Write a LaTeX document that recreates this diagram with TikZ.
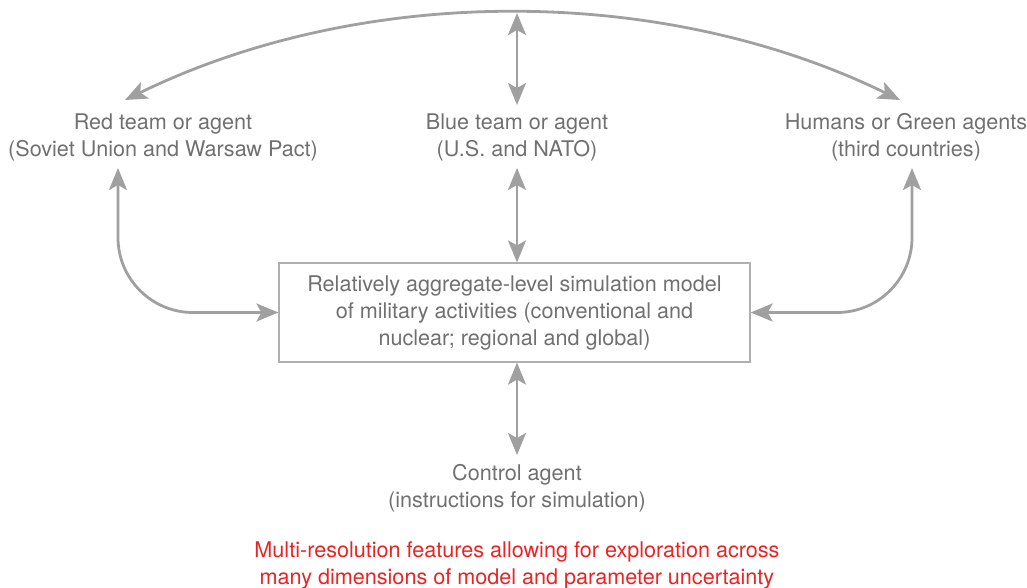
\documentclass[tikz,border=0pt]{standalone}
\usepackage{fontspec}
\setmainfont{TeX Gyre Heros}
\usetikzlibrary{arrows.meta,calc}
\definecolor{txtgray}{RGB}{112,112,112}
\definecolor{arrgray}{RGB}{160,160,160}
\definecolor{boxgray}{RGB}{175,175,175}
\definecolor{notered}{RGB}{235,35,35}
\tikzset{
  lbl/.style={align=center,inner sep=0pt,text=txtgray,font=\fontsize{21.6}{27}\selectfont},
  conn/.style={draw=arrgray,line width=2.8pt,{Stealth[length=22pt,width=18pt,inset=5pt]}-{Stealth[length=22pt,width=18pt,inset=5pt]}},
  simbox/.style={draw=boxgray,line width=1.2pt,minimum width=471pt,minimum height=99pt,align=center,inner sep=0pt,text=txtgray,font=\fontsize{21.6}{27}\selectfont}
}
\begin{document}
\begin{tikzpicture}[x=1pt,y=-1pt]
\useasboundingbox (0,0) rectangle (1027,588);
\node[lbl] (red) at (163,137) {Red team or agent\\(Soviet Union and Warsaw Pact)};
\node[lbl] (blue) at (517,137) {Blue team or agent\\(U.S. and NATO)};
\node[lbl] (green) at (906,137) {Humans or Green agents\\(third countries)};
\node[simbox] (box) at (514.5,312.5) {Relatively aggregate-level simulation model\\of military activities (conventional and\\nuclear; regional and global)};
\node[lbl] (ctrl) at (517,488) {Control agent\\(instructions for simulation)};
\node[lbl,text=notered] (note) at (517,565.5) {Multi-resolution features allowing for exploration across\\many dimensions of model and parameter uncertainty};
\coordinate (redtip) at (125,100);
\coordinate (greentip) at (900,100);
\coordinate (arctop) at (517,13);
\coordinate (redup) at (118,168);
\coordinate (greenup) at (912,168);
\draw[conn] (redtip) .. controls (363,-16) and (662,-16) .. (greentip);
\draw[conn] (arctop) -- (517,105);
\draw[conn] (517,168) -- (box.north -| 517,0);
\draw[conn,rounded corners=75pt] (redup) |- (box.west);
\draw[conn,rounded corners=75pt] (greenup) |- (box.east);
\draw[conn] (box.south -| 517,0) -- (517,455);
\end{tikzpicture}
\end{document}
